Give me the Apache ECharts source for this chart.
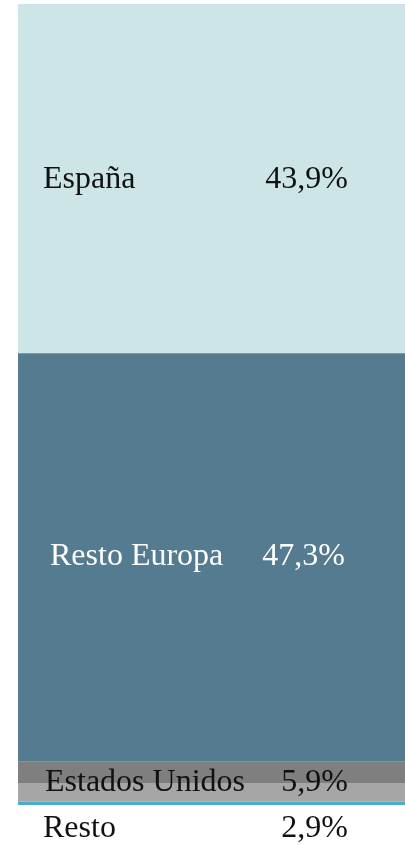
<!DOCTYPE html>
<html>
<head>
<meta charset="utf-8">
<script src="https://cdn.jsdelivr.net/npm/echarts@6/dist/echarts.min.js"></script>
<style>
  html, body { margin: 0; padding: 0; background: #fff; }
  #chart { width: 405px; height: 845px; }
</style>
</head>
<body>
<div id="chart"></div>
<script>
// regiones y su peso (etiquetas)
const regions = ['España', 'Resto Europa', 'Estados Unidos', 'Resto'];
const shares = [43.9, 47.3, 5.9, 2.9];
// largo visible de cada tramo en la barra (% de la barra)
const barExtent = [43.6, 51.0, 5.0, 0.4];

const colors = ['#cee5e8', '#547b8f', '#7f7f7f', '#4bacc6'];
const textColors = ['#111', '#fff', '#111', '#111'];
// posición de la etiqueta respecto al tramo [x, y] y ancho del nombre
const labelPos = [[25, 176], [32, 203], [27, 21], [25, 27]];
const nameWidth = [205, 195, 203, 205];

const fmt = v => v.toFixed(1).replace('.', ',') + '%';

const chart = echarts.init(document.getElementById('chart'));

const series = regions.map((name, i) => {
     let color = colors[i];
     if (name === 'Estados Unidos') {
          // franja gris con parte inferior más clara
          color = new echarts.graphic.LinearGradient(0, 0, 0, 1, [
               { offset: 0, color: '#7f7f7f' },
               { offset: 0.52, color: '#7f7f7f' },
               { offset: 0.52, color: '#a6a6a6' },
               { offset: 1, color: '#a6a6a6' },
          ]);
     }
     return {
          name: name,
          type: 'bar',
          stack: 'total',
          barWidth: '100%',
          data: [barExtent[i]],
          itemStyle: { color: color },
          silent: true,
          z: name === 'Estados Unidos' ? 3 : 2,
          label: {
               show: true,
               position: labelPos[i],
               align: 'left',
               verticalAlign: 'middle',
               formatter: () => '{n|' + name + '}{v|' + fmt(shares[i]) + '}',
               rich: {
                    n: {
                         width: nameWidth[i],
                         fontFamily: 'Liberation Serif',
                         fontSize: 32,
                         color: textColors[i],
                    },
                    v: {
                         width: 100,
                         align: 'right',
                         fontFamily: 'Liberation Serif',
                         fontSize: 32,
                         color: textColors[i],
                    },
               },
          },
     };
});

chart.setOption({
     backgroundColor: '#ffffff',
     animation: false,
     grid: { left: 18, right: 0, top: 4, height: 801 },
     xAxis: {
          type: 'category',
          data: ['Ventas'],
          show: false,
     },
     yAxis: {
          type: 'value',
          min: 0,
          max: 100,
          inverse: true,
          show: false,
     },
     series: series,
});
</script>
</body>
</html>
